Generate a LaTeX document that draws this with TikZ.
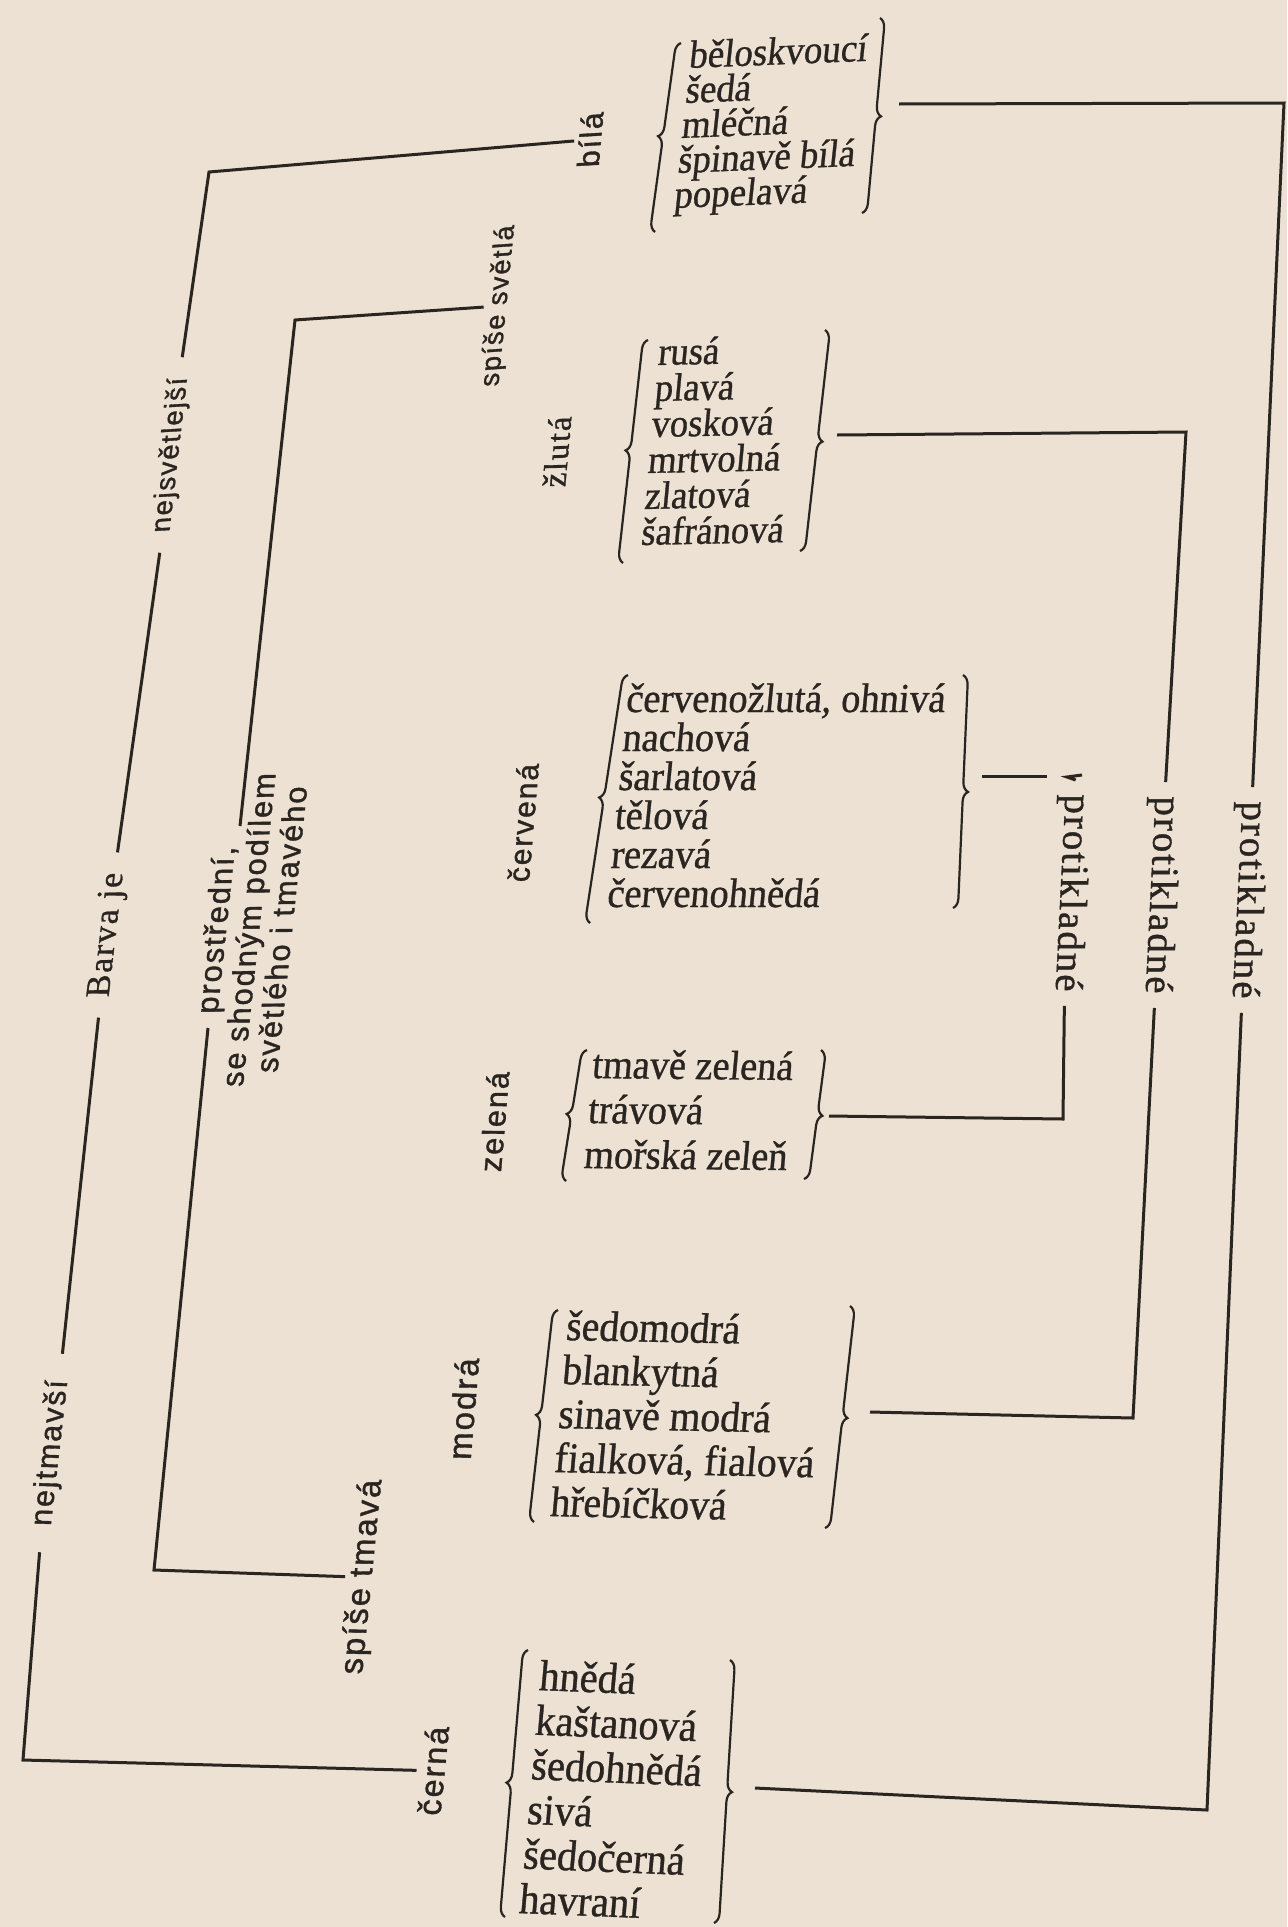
\documentclass[tikz,border=0pt]{standalone}
\usepackage{fontspec}
\setmainfont{Liberation Serif}
\newfontfamily\itemfont[FakeStretch=0.93,FakeBold=0.8]{Liberation Serif}
\newfontfamily\lsans[LetterSpace=6,FakeBold=1.2]{Liberation Sans}
\newfontfamily\lserif[LetterSpace=5,FakeBold=1]{Liberation Serif}
\usetikzlibrary{decorations.pathreplacing}
\definecolor{paper}{RGB}{236,225,211}
\definecolor{ink}{RGB}{42,37,32}
\newcommand\ilist[2]{\vtop{\baselineskip=#1\lineskiplimit=-\maxdimen\lineskip=0pt\relax #2}}
\begin{document}
\begin{tikzpicture}[x=0.5pt,y=-0.5pt,
  line/.style={draw=ink,line width=1.5pt,line join=miter},
  brc/.style={draw=ink,line width=1.1pt,decorate,decoration={brace,amplitude=5pt}},
  items/.style={inner sep=0pt,anchor=base west,text=ink,font=\itemfont\fontsize{#1}{#1}\selectfont},
  sanslab/.style={text=ink,inner xsep=9pt,inner ysep=2pt,font=\lsans\fontsize{#1}{#1}\selectfont},
  seriflab/.style={text=ink,inner xsep=9pt,inner ysep=2pt,font=\lserif\fontsize{#1}{#1}\selectfont},
]
\useasboundingbox (0,0) rectangle (1287,1927);
\fill[paper] (0,0) rectangle (1287,1927);

% ---------- item lists ----------
\node[items=19.8, cm={1,0.04,0.107,1,(0,0)}] (bilaI) at (688,68)
  {\ilist{17.5pt}{\hbox{běloskvoucí}\hbox{šedá}\hbox{mléčná}\hbox{špinavě bílá}\hbox{popelavá}}};
\node[items=19.7, cm={1,0.02,0.094,1,(0,0)}] (zlutI) at (657,365)
  {\ilist{18pt}{\hbox{rusá}\hbox{plavá}\hbox{vosková}\hbox{mrtvolná}\hbox{zlatová}\hbox{šafránová}}};
\node[items=20.6, cm={1,0,0.097,1,(0,0)}] (cervI) at (625,712)
  {\ilist{19.5pt}{\hbox{červenožlutá, ohnivá}\hbox{nachová}\hbox{šarlatová}\hbox{tělová}\hbox{rezavá}\hbox{červenohnědá}}};
\node[items=20.6, cm={1,-0.01,0.09,1,(0,0)}] (zelI) at (591,1078)
  {\ilist{22.5pt}{\hbox{tmavě zelená}\hbox{trávová}\hbox{mořská zeleň}}};
\node[items=21.3, cm={1,-0.02,0.09,1,(0,0)}] (modrI) at (565,1340)
  {\ilist{22pt}{\hbox{šedomodrá}\hbox{blankytná}\hbox{sinavě modrá}\hbox{fialková, fialová}\hbox{hřebíčková}}};
\node[items=21.7, cm={1,-0.04,0.09,1,(0,0)}] (cernI) at (538,1690)
  {\ilist{22.3pt}{\hbox{hnědá}\hbox{kaštanová}\hbox{šedohnědá}\hbox{sivá}\hbox{šedočerná}\hbox{havraní}}};

% ---------- braces ----------
\draw[brc] (655,232) -- (681,43);
\draw[brc] (880,18) -- (862,213);
\draw[brc] (623,563) -- (648,340);
\draw[brc] (825,330) -- (800,551);
\draw[brc] (590,923) -- (628,675);
\draw[brc] (963,675) -- (953,908);
\draw[brc] (566,1181) -- (587,1050);
\draw[brc] (821,1050) -- (804,1179);
\draw[brc] (534,1522) -- (558,1310);
\draw[brc] (850,1306) -- (825,1528);
\draw[brc] (505,1917) -- (528,1650);
\draw[brc] (730,1660) -- (714,1923);

% ---------- category labels ----------
\node[sanslab=15.3, cm={0.09,1,-1,-0.06,(0,0)}] (bila) at (590,140) {bílá};
\node[seriflab=16.5, cm={0.09,1,-1,-0.02,(0,0)}] (zluta) at (557,452) {žlutá};
\node[sanslab=15.1, cm={0.085,1,-1,0,(0,0)}] (cervena) at (523,823) {červená};
\node[sanslab=15.4, cm={0.085,1,-1,0.01,(0,0)}] (zelena) at (494,1122) {zelená};
\node[sanslab=16.5, cm={0.085,1,-1,0.02,(0,0)}] (modra) at (463,1409) {modrá};
\node[sanslab=16.2, cm={0.1,1,-1,0.04,(0,0)}] (cerna) at (433,1771) {černá};

% ---------- left labels ----------
\node[sanslab=13.7, inner ysep=1pt, cm={0.1,1,-1,-0.07,(0,0)}] (svetla) at (499,306) {spíše světlá};
\node[sanslab=16.4, inner ysep=1pt, cm={0.1,1,-1,0.02,(0,0)}] (tmava) at (363,1577) {spíše tmavá};
\node[sanslab=13.8, inner xsep=10pt, cm={0.115,1,-1,-0.06,(0,0)}] (nejsv) at (171,455) {nejsvětlejší};
\node[seriflab=17, inner xsep=10pt, cm={0.115,1,-1,-0.01,(0,0)}] (barva) at (108,935) {Barva je};
\node[sanslab=15.3, inner xsep=13pt, cm={0.115,1,-1,0.03,(0,0)}] (nejtm) at (51,1453) {nejtmavší};
\node[text=ink, inner sep=0pt, align=center, font=\lsans\fontsize{15.5}{16.5}\selectfont,
      cm={0.105,1,-1,-0.01,(0,0)}] (prost) at (248,930)
  {prostřední,\\se shodným podílem\\světlého i tmavého};

% ---------- protikladné labels ----------
\node[seriflab=19.5, inner xsep=7pt, cm={-0.05,-1,1,0,(0,0)}] (p3) at (1070,893) {protikladné};
\node[seriflab=19.5, inner xsep=7pt, cm={-0.05,-1,1,0,(0,0)}] (p2) at (1160,895) {protikladné};
\node[seriflab=19.5, inner xsep=7pt, cm={-0.05,-1,1,0,(0,0)}] (p1) at (1247,900) {protikladné};

% ---------- named points ----------
\coordinate (OL1) at (209,172);
\coordinate (OL8) at (23,1760);
\coordinate (IL1) at (295,320);
\coordinate (IL2) at (240,826);
\coordinate (IL3) at (208,1028);
\coordinate (IL4) at (154,1570);
\coordinate (R1t) at (1284,103);
\coordinate (R1b) at (1207,1810);
\coordinate (R2t) at (1186,432);
\coordinate (R2b) at (1133,1418);
\coordinate (R3h) at (1082,775);
\coordinate (R3t) at (1067,777);
\coordinate (R3b) at (1063,1119);
\coordinate (cvE) at (1047,776);
\coordinate (bilaT) at (899,104);
\coordinate (zlutT) at (837,435);
\coordinate (cervT) at (982,776);
\coordinate (zelT) at (829,1116);
\coordinate (modrT) at (870,1412);
\coordinate (cernT) at (755,1788);

% ---------- connectors ----------
\draw[line] (bila.north) -- (OL1) -- (nejsv.east);
\draw[line] (nejsv.west) -- (barva.east);
\draw[line] (barva.west) -- (nejtm.east);
\draw[line] (nejtm.west) -- (OL8) -- (cerna.north);
\draw[line] (svetla.north) -- (IL1) -- (IL2);
\draw[line] (IL3) -- (IL4) -- (tmava.north);

\draw[line] (bilaT) -- (R1t) -- (p1.west);
\draw[line] (p1.east) -- (R1b) -- (cernT);
\draw[line] (zlutT) -- (R2t) -- (p2.west);
\draw[line] (p2.east) -- (R2b) -- (modrT);
\draw[line] (cervT) -- (cvE);
\draw[line] (R3h) -- (R3t) -- (p3.west);
\draw[line] (p3.east) -- (R3b) -- (zelT);
\end{tikzpicture}
\end{document}
